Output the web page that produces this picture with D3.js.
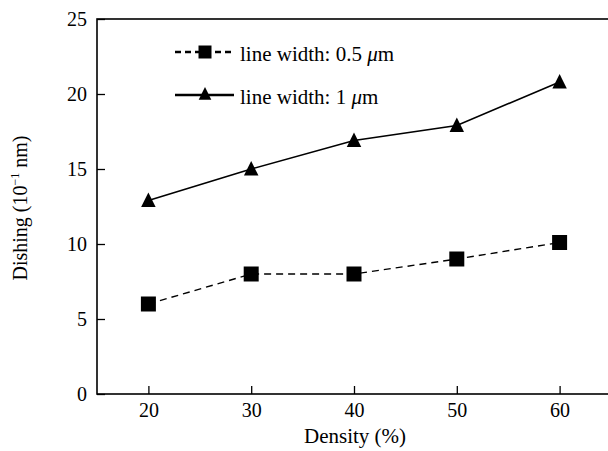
<!DOCTYPE html>
<html>
<head>
<meta charset="utf-8">
<script src="https://cdn.jsdelivr.net/npm/d3@7"></script>
<style>
  body { margin: 0; background: #fff; }
  svg text { font-family: "Liberation Serif", "Times New Roman", serif; fill: #000; }
</style>
</head>
<body>
<svg id="chart" width="608" height="451"></svg>
<script>
// Dishing versus pattern density for two line widths
const density = [20, 30, 40, 50, 60];
const dishingNarrow = [6, 8, 8, 9, 10.1];          // line width 0.5 µm
const dishingWide = [12.9, 15, 16.9, 17.9, 20.8];  // line width 1 µm
const xTicks = [20, 30, 40, 50, 60];
const yTicks = [0, 5, 10, 15, 20, 25];

const svg = d3.select("#chart");
const margin = { left: 97, top: 19, right: -3, bottom: 57 };
const W = 608, H = 451;

const x = d3.scaleLinear().domain([15, 65]).range([margin.left, W - margin.right]);
const y = d3.scaleLinear().domain([0, 25]).range([H - margin.bottom, margin.top]);

// frame
svg.append("rect")
  .attr("x", x(15)).attr("y", y(25))
  .attr("width", x(65) - x(15)).attr("height", y(0) - y(25))
  .attr("fill", "none").attr("stroke", "#000").attr("stroke-width", 1.6);

// axes with inward ticks
const xAxis = svg.append("g").attr("transform", `translate(0,${y(0)})`)
  .call(d3.axisBottom(x).tickValues(xTicks).tickSize(-8).tickPadding(9).tickFormat(d3.format("d")));
const yAxis = svg.append("g").attr("transform", `translate(${x(15)},0)`)
  .call(d3.axisLeft(y).tickValues(yTicks).tickSize(-8).tickPadding(10).tickFormat(d3.format("d")));
[xAxis, yAxis].forEach(g => {
  g.select(".domain").remove();
  g.selectAll(".tick line").attr("stroke", "#000").attr("stroke-width", 1.3);
  g.selectAll(".tick text").style("font-size", "20px");
});

// triangle marker with a base as wide as it is tall
const triangle = {
  draw(ctx, size) {
    const h = Math.sqrt(size);
    ctx.moveTo(0, -h * 0.55);
    ctx.lineTo(h / 2, h * 0.45);
    ctx.lineTo(-h / 2, h * 0.45);
    ctx.closePath();
  }
};

// series lines
const line = d3.line().x((d, i) => x(density[i])).y(d => y(d));
svg.append("path").datum(dishingNarrow).attr("d", line)
  .attr("fill", "none").attr("stroke", "#000").attr("stroke-width", 1.4)
  .attr("stroke-dasharray", "7,5");
svg.append("path").datum(dishingWide).attr("d", line)
  .attr("fill", "none").attr("stroke", "#000").attr("stroke-width", 1.6);

// markers
const sq = d3.symbol().type(d3.symbolSquare).size(225);
const tri = d3.symbol().type(triangle).size(210);
svg.selectAll(".sq").data(dishingNarrow).join("path")
  .attr("d", sq).attr("transform", (d, i) => `translate(${x(density[i])},${y(d)})`);
svg.selectAll(".tri").data(dishingWide).join("path")
  .attr("d", tri).attr("transform", (d, i) => `translate(${x(density[i])},${y(d)})`);

// legend
const legend = svg.append("g");
legend.append("line").attr("x1", 175).attr("x2", 234).attr("y1", 52).attr("y2", 52)
  .attr("stroke", "#000").attr("stroke-width", 2.6).attr("stroke-dasharray", "6,4");
legend.append("path").attr("d", d3.symbol().type(d3.symbolSquare).size(169)).attr("transform", "translate(205,52)");
legend.append("text").attr("x", 240).attr("y", 61).style("font-size", "21px")
  .html('line width: 0.5 <tspan font-style="italic">μ</tspan>m');
legend.append("line").attr("x1", 175).attr("x2", 234).attr("y1", 95).attr("y2", 95)
  .attr("stroke", "#000").attr("stroke-width", 2.6);
legend.append("path").attr("d", d3.symbol().type(triangle).size(160)).attr("transform", "translate(205,94)");
legend.append("text").attr("x", 240).attr("y", 104).style("font-size", "21px")
  .html('line width: 1 <tspan font-style="italic">μ</tspan>m');

// axis titles
svg.append("text").attr("x", 355).attr("y", 443).attr("text-anchor", "middle")
  .style("font-size", "21px").text("Density (%)");
svg.append("text").attr("transform", "translate(27,208) rotate(-90)")
  .attr("text-anchor", "middle").style("font-size", "20px")
  .html('Dishing (10<tspan dy="-8" font-size="12px">−1</tspan><tspan dy="8"> nm)</tspan>');
</script>
</body>
</html>
